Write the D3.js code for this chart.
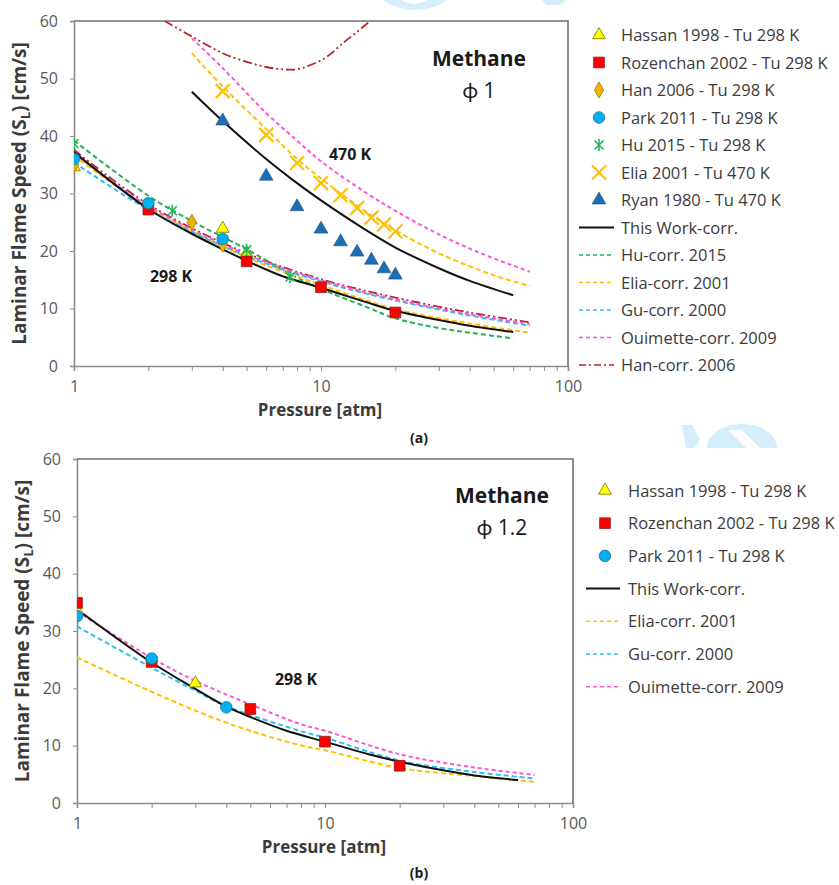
<!DOCTYPE html>
<html>
<head>
<meta charset="utf-8">
<script src="https://cdn.jsdelivr.net/npm/d3@7"></script>
<style>
  html, body { margin: 0; padding: 0; background: #fff; }
  svg { display: block; font-family: "Open Sans", Lato, sans-serif; }
</style>
</head>
<body>
<svg id="chart" width="839" height="885"></svg>
<script>
// ---------- Panel (a): methane, phi = 1 ----------
// measurements: pressure [atm] and laminar flame speed [cm/s]
const hassanP_a = [1, 4, 5];            const hassanS_a = [34.6, 23.9, 19.6];
const rozenchanP_a = [2, 5, 10, 20];    const rozenchanS_a = [27.2, 18.2, 13.7, 9.3];
const hanP_a = [1, 3, 4];               const hanS_a = [35.0, 25.0, 21.2];
const parkP_a = [1, 2, 4];              const parkS_a = [36.0, 28.3, 22.1];
const huP_a = [1, 2.5, 5, 7.5];         const huS_a = [38.7, 27.0, 20.2, 15.5];
const eliaP_a = [4, 6, 8, 10, 12, 14, 16, 18, 20];
const eliaS_a = [47.8, 40.2, 35.3, 31.8, 29.7, 27.5, 25.8, 24.6, 23.4];
const ryanP_a = [4, 6, 8, 10, 12, 14, 16, 18, 20];
const ryanS_a = [42.6, 33.0, 27.7, 23.8, 21.6, 19.8, 18.4, 16.9, 15.8];

// correlations at Tu = 298 K
const workP298 = [1, 2, 3, 4, 5, 7, 10, 15, 20, 30, 40, 60];
const workS298 = [37.2, 27.3, 23.0, 20.3, 18.3, 15.6, 13.6, 11.2, 9.6, 8.0, 7.0, 5.9];
const huCorrP = [1, 2, 3, 5, 7.5, 10, 15, 20, 30, 40, 60];
const huCorrS = [39.2, 29.6, 25.2, 20.3, 16.0, 13.4, 10.4, 8.3, 6.6, 5.8, 4.8];
const eliaCorrP298 = [1, 2, 5, 10, 20, 40, 70];
const eliaCorrS298 = [36.6, 27.6, 18.9, 14.1, 9.9, 7.4, 5.8];
const guCorrP298 = [1, 2, 5, 10, 20, 40, 70];
const guCorrS298 = [35.4, 27.2, 19.1, 14.7, 11.4, 8.8, 7.0];
const ouimCorrP298 = [1, 2, 5, 10, 20, 40, 70];
const ouimCorrS298 = [37.0, 27.8, 19.4, 14.9, 11.6, 9.0, 7.3];
const hanCorrP298 = [1, 2, 5, 10, 20, 40, 70];
const hanCorrS298 = [37.6, 28.1, 19.6, 15.1, 11.9, 9.3, 7.6];

// correlations at Tu = 470 K
const workP470 = [3, 4, 6, 8, 10, 15, 20, 30, 40, 60];
const workS470 = [47.7, 42.6, 36.0, 31.8, 28.8, 23.8, 20.6, 17.0, 14.8, 12.3];
const eliaCorrP470 = [3, 4, 6, 8, 10, 15, 20, 30, 50, 70];
const eliaCorrS470 = [54.4, 48.6, 41.2, 36.0, 32.6, 27.0, 23.6, 19.6, 15.8, 13.9];
const ouimCorrP470 = [3, 4, 6, 8, 10, 15, 20, 30, 45, 70];
const ouimCorrS470 = [57.0, 51.8, 44.0, 39.2, 35.6, 30.3, 27.0, 22.9, 19.5, 16.4];
const hanCorrP470 = [2.33, 3, 4, 5, 6, 7, 8, 9, 10.5, 12.3, 14, 15.8];
const hanCorrS470 = [60, 57.3, 54.4, 52.9, 52.0, 51.6, 51.6, 52.3, 53.7, 56.2, 58.1, 60];

// ---------- Panel (b): methane, phi = 1.2 ----------
const hassanP_b = [1, 3];               const hassanS_b = [33.6, 20.9];
const rozenchanP_b = [1, 2, 5, 10, 20]; const rozenchanS_b = [34.9, 24.6, 16.4, 10.7, 6.5];
const parkP_b = [1, 2, 4];              const parkS_b = [32.6, 25.2, 16.7];
const workP_b = [1, 2, 3, 4, 5, 7, 10, 15, 20, 30, 40, 60];
const workS_b = [33.8, 24.5, 19.9, 16.8, 15.0, 12.6, 10.7, 8.5, 7.2, 5.7, 4.8, 4.0];
const eliaCorrP_b = [1, 2, 4, 7.9, 10, 20, 40, 70];
const eliaCorrS_b = [25.4, 19.4, 14.0, 10.1, 9.2, 6.1, 4.7, 3.7];
const guCorrP_b = [1, 2, 3, 4, 7.9, 10, 20, 40, 70];
const guCorrS_b = [30.8, 23.6, 19.6, 16.9, 12.6, 11.4, 7.4, 5.4, 4.3];
const ouimCorrP_b = [1, 2, 3, 5, 7.9, 10, 20, 40, 70];
const ouimCorrS_b = [33.4, 25.3, 21.3, 17.2, 13.8, 12.6, 8.5, 6.2, 4.9];

// axis ticks
const yTicks = [0, 10, 20, 30, 40, 50, 60];
const xMajor = [1, 10, 100];
const xMinor = [2, 3, 4, 5, 6, 7, 8, 9, 20, 30, 40, 50, 60, 70, 80, 90];

// ---------- styling ----------
const C = {
  axis: "#8c8c8c", frame: "#6f6f6f", tick: "#595959", text: "#3b3b3b",
  yellow: "#ffff00", red: "#ff0000", orange: "#f2b200", blue: "#00b0f0",
  green: "#22b35a", amber: "#ffc000", navy: "#1f6db5", pink: "#ff55d4",
  cyan: "#2ec0f2", dred: "#b3262a", black: "#111"
};

const svg = d3.select("#chart");
const zip = (P, S) => P.map((p, i) => ({ p, s: S[i] }));

function drawMarker(g, type, x, y) {
  const sym = {
    tri: d3.symbol(d3.symbolTriangle, 72),
    sq: d3.symbol(d3.symbolSquare, 115),
    dia: d3.symbol(d3.symbolDiamond, 75),
    circ: d3.symbol(d3.symbolCircle, 105),
    ntri: d3.symbol(d3.symbolTriangle, 82)
  };
  const at = `translate(${x},${y})`;
  if (type === "tri") {
    g.append("path").attr("d", sym.tri()).attr("transform", at)
      .attr("fill", C.yellow).attr("stroke", "#7a7a00").attr("stroke-width", 0.8);
  } else if (type === "sq") {
    g.append("path").attr("d", sym.sq()).attr("transform", at)
      .attr("fill", C.red).attr("stroke", "#8a2020").attr("stroke-width", 0.8);
  } else if (type === "dia") {
    g.append("path").attr("d", sym.dia()).attr("transform", at)
      .attr("fill", C.orange).attr("stroke", "#9a7a10").attr("stroke-width", 0.8);
  } else if (type === "circ") {
    g.append("path").attr("d", sym.circ()).attr("transform", at)
      .attr("fill", C.blue).attr("stroke", "#1d6e96").attr("stroke-width", 0.8);
  } else if (type === "star") {
    // asterisk: a cross plus a vertical bar
    const r = 4.5;
    const st = g.append("g").attr("transform", at)
      .attr("stroke", C.green).attr("stroke-width", 1.6);
    st.append("line").attr("x1", -r).attr("y1", -r).attr("x2", r).attr("y2", r);
    st.append("line").attr("x1", -r).attr("y1", r).attr("x2", r).attr("y2", -r);
    st.append("line").attr("x1", 0).attr("y1", -r - 1.5).attr("x2", 0).attr("y2", r + 1.5);
  } else if (type === "x") {
    const r = 7;
    const st = g.append("g").attr("transform", at)
      .attr("stroke", C.amber).attr("stroke-width", 2.2);
    st.append("line").attr("x1", -r).attr("y1", -r).attr("x2", r).attr("y2", r);
    st.append("line").attr("x1", -r).attr("y1", r).attr("x2", r).attr("y2", -r);
  } else if (type === "ntri") {
    g.append("path").attr("d", sym.ntri()).attr("transform", at)
      .attr("fill", C.navy).attr("stroke", "#164f85").attr("stroke-width", 0.6);
  }
}

const lineStyles = {
  solid: { color: C.black, dash: null, width: 2 },
  hu: { color: C.green, dash: "5,3", width: 2 },
  elia: { color: C.amber, dash: "5,3", width: 2 },
  gu: { color: C.cyan, dash: "5,3", width: 2 },
  ouim: { color: C.pink, dash: "4,3", width: 2 },
  han: { color: C.dred, dash: "9,3,2,3,2,3", width: 1.8 }
};

function panel(cfg) {
  const { left, right, top, bottom, id } = cfg;
  const x = d3.scaleLog().domain([1, 100]).range([left, right]);
  const y = d3.scaleLinear().domain([0, 60]).range([bottom, top]);
  const g = svg.append("g");

  g.append("clipPath").attr("id", id).append("rect")
    .attr("x", left).attr("y", top).attr("width", right - left).attr("height", bottom - top);

  // plot frame (top and right)
  g.append("path")
    .attr("d", `M${left},${top}H${right}V${bottom}`)
    .attr("fill", "none").attr("stroke", C.frame).attr("stroke-width", 1.6);

  // y axis
  const ya = g.append("g").attr("transform", `translate(${left},0)`)
    .call(d3.axisLeft(y).tickValues(yTicks).tickSize(4).tickPadding(12));
  // x axis: major ticks with labels, minor ticks without
  const xa = g.append("g").attr("transform", `translate(0,${bottom})`)
    .call(d3.axisBottom(x).tickValues(xMajor).tickFormat(d3.format("d")).tickSize(5));
  const xm = g.append("g").attr("transform", `translate(0,${bottom})`)
    .call(d3.axisBottom(x).tickValues(xMinor).tickFormat("").tickSize(5));
  xm.select(".domain").remove();
  [ya, xa, xm].forEach(a => {
    a.select(".domain").attr("stroke", C.axis).attr("stroke-width", 1.6);
    a.selectAll(".tick line").attr("stroke", C.axis).attr("stroke-width", 1);
    a.selectAll(".tick text").attr("fill", C.tick).style("font-size", "16px")
      .style("font-family", "'Open Sans', sans-serif");
  });
  xa.selectAll(".tick text").attr("dy", null).attr("y", 26);

  // axis titles
  g.append("text").attr("x", (left + right) / 2 - 1).attr("y", bottom + 50)
    .attr("text-anchor", "middle").attr("fill", C.text)
    .style("font-size", "17px").style("font-weight", "bold").text("Pressure [atm]");
  const yt = g.append("text")
    .attr("transform", `translate(${left - 48},${(top + bottom) / 2}) rotate(-90)`)
    .attr("text-anchor", "middle").attr("fill", C.text)
    .style("font-size", "19px").style("font-weight", "bold");
  yt.append("tspan").text("Laminar Flame Speed (S");
  yt.append("tspan").attr("dy", 4).style("font-size", "13px").text("L");
  yt.append("tspan").attr("dy", -4).text(") [cm/s]");

  const plot = g.append("g").attr("clip-path", `url(#${id})`);
  const line = d3.line().x(d => x(d.p)).y(d => y(d.s)).curve(d3.curveCatmullRom.alpha(0.5));

  cfg.lines.forEach(([P, S, key]) => {
    const st = lineStyles[key];
    plot.append("path").datum(zip(P, S)).attr("d", line)
      .attr("fill", "none").attr("stroke", st.color).attr("stroke-width", st.width)
      .attr("stroke-dasharray", st.dash);
  });
  cfg.points.forEach(([P, S, type]) => {
    zip(P, S).forEach(d => drawMarker(plot, type, x(d.p), y(d.s)));
  });

  // legend
  const L = cfg.legend;
  L.items.forEach((it, i) => {
    const cy = L.y0 + i * L.dy;
    if (it.marker) {
      drawMarker(g, it.marker, L.sx, cy);
    } else {
      const st = lineStyles[it.line];
      g.append("line").attr("x1", L.lx1).attr("x2", L.lx2).attr("y1", cy).attr("y2", cy)
        .attr("stroke", st.color).attr("stroke-width", it.line === "solid" ? 2 : 1.6)
        .attr("stroke-dasharray", it.line === "solid" ? null :
          (it.line === "han" ? "7,3,2,3" : "4,3"));
    }
    g.append("text").attr("x", L.tx).attr("y", cy + 6).attr("fill", C.text)
      .style("font-size", "16.5px").text(it.label);
  });

  // annotations
  cfg.notes.forEach(n => {
    g.append("text").attr("x", n.x).attr("y", n.y).attr("text-anchor", "middle")
      .attr("fill", "#1a1a1a").style("font-size", n.size + "px")
      .style("font-weight", n.bold ? "bold" : "normal").text(n.t);
  });
}

// faint logo fragments behind the panels
const wm = svg.append("g").attr("fill", "#d5eefb");
wm.append("ellipse").attr("cx", 415).attr("cy", -32).attr("rx", 50).attr("ry", 42);
wm.append("ellipse").attr("cx", 414).attr("cy", -32).attr("rx", 29).attr("ry", 36).attr("fill", "#fff");
wm.append("path").attr("d", "M542,0 H566 L560,5 H546 Z");
wm.append("path").attr("d", "M682,425 H692 L700,440 L694,448 H686 Z");
wm.append("path").attr("d", "M707,448 A35,24 0 0 1 777,448 Z");
wm.append("path").attr("d", "M728,430 L742,430 L760,448 L746,448 Z").attr("fill", "#fff");

panel({
  id: "clipA", left: 74, right: 568, top: 21, bottom: 366,
  lines: [
    [hanCorrP298, hanCorrS298, "han"],
    [huCorrP, huCorrS, "hu"],
    [eliaCorrP298, eliaCorrS298, "elia"],
    [guCorrP298, guCorrS298, "gu"],
    [ouimCorrP298, ouimCorrS298, "ouim"],
    [workP298, workS298, "solid"],
    [eliaCorrP470, eliaCorrS470, "elia"],
    [ouimCorrP470, ouimCorrS470, "ouim"],
    [hanCorrP470, hanCorrS470, "han"],
    [workP470, workS470, "solid"]
  ],
  points: [
    [hassanP_a, hassanS_a, "tri"],
    [rozenchanP_a, rozenchanS_a, "sq"],
    [hanP_a, hanS_a, "dia"],
    [parkP_a, parkS_a, "circ"],
    [huP_a, huS_a, "star"],
    [eliaP_a, eliaS_a, "x"],
    [ryanP_a, ryanS_a, "ntri"]
  ],
  legend: {
    y0: 35, dy: 27.5, sx: 599, tx: 621, lx1: 579, lx2: 614,
    items: [
      { marker: "tri", label: "Hassan 1998 - Tu 298 K" },
      { marker: "sq", label: "Rozenchan 2002 - Tu 298 K" },
      { marker: "dia", label: "Han 2006 - Tu 298 K" },
      { marker: "circ", label: "Park 2011 - Tu 298 K" },
      { marker: "star", label: "Hu 2015 - Tu 298 K" },
      { marker: "x", label: "Elia 2001 - Tu 470 K" },
      { marker: "ntri", label: "Ryan 1980 - Tu 470 K" },
      { line: "solid", label: "This Work-corr." },
      { line: "hu", label: "Hu-corr. 2015" },
      { line: "elia", label: "Elia-corr. 2001" },
      { line: "gu", label: "Gu-corr. 2000" },
      { line: "ouim", label: "Ouimette-corr. 2009" },
      { line: "han", label: "Han-corr. 2006" }
    ]
  },
  notes: [
    { t: "Methane", x: 479, y: 66, size: 21, bold: true },
    { t: "ϕ 1", x: 479, y: 98, size: 21, bold: false },
    { t: "470 K", x: 350, y: 160, size: 16, bold: true },
    { t: "298 K", x: 171, y: 282, size: 16, bold: true },
    { t: "(a)", x: 419, y: 443, size: 14, bold: true }
  ]
});

panel({
  id: "clipB", left: 77, right: 573, top: 459, bottom: 803,
  lines: [
    [eliaCorrP_b, eliaCorrS_b, "elia"],
    [guCorrP_b, guCorrS_b, "gu"],
    [ouimCorrP_b, ouimCorrS_b, "ouim"],
    [workP_b, workS_b, "solid"]
  ],
  points: [
    [hassanP_b, hassanS_b, "tri"],
    [rozenchanP_b, rozenchanS_b, "sq"],
    [parkP_b, parkS_b, "circ"]
  ],
  legend: {
    y0: 490.5, dy: 32.7, sx: 605, tx: 628, lx1: 586, lx2: 620,
    items: [
      { marker: "tri", label: "Hassan 1998 - Tu 298 K" },
      { marker: "sq", label: "Rozenchan 2002 - Tu 298 K" },
      { marker: "circ", label: "Park 2011 - Tu 298 K" },
      { line: "solid", label: "This Work-corr." },
      { line: "elia", label: "Elia-corr. 2001" },
      { line: "gu", label: "Gu-corr. 2000" },
      { line: "ouim", label: "Ouimette-corr. 2009" }
    ]
  },
  notes: [
    { t: "Methane", x: 502, y: 503, size: 21, bold: true },
    { t: "ϕ 1.2", x: 502, y: 535, size: 21, bold: false },
    { t: "298 K", x: 296, y: 685, size: 16, bold: true },
    { t: "(b)", x: 419, y: 878, size: 14, bold: true }
  ]
});
</script>
</body>
</html>
